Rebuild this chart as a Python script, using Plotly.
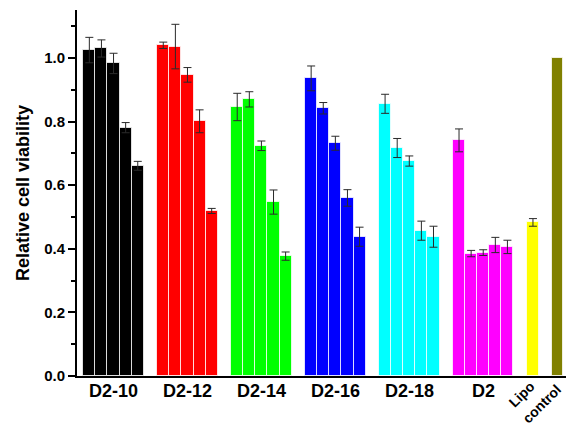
import plotly.graph_objects as go

# Relative cell viability per formulation (five concentrations each)
groups = ["D2-10", "D2-12", "D2-14", "D2-16", "D2-18", "D2"]
colors = ["#000000", "#FF0000", "#00FF00", "#0000FF", "#00FFFF", "#FF00FF"]

d2_10 = [1.025, 1.030, 0.983, 0.781, 0.661]
d2_12 = [1.040, 1.036, 0.947, 0.801, 0.519]
d2_14 = [0.846, 0.870, 0.724, 0.547, 0.377]
d2_16 = [0.936, 0.842, 0.732, 0.560, 0.438]
d2_18 = [0.856, 0.717, 0.676, 0.457, 0.438]
d2 = [0.741, 0.385, 0.388, 0.412, 0.406]

err_10 = [0.040, 0.027, 0.032, 0.016, 0.014]
err_12 = [0.010, 0.070, 0.023, 0.036, 0.008]
err_14 = [0.043, 0.024, 0.015, 0.038, 0.013]
err_16 = [0.039, 0.018, 0.022, 0.026, 0.030]
err_18 = [0.030, 0.030, 0.016, 0.030, 0.033]
err_d2 = [0.036, 0.010, 0.009, 0.024, 0.021]

lipo = 0.483
lipo_err = 0.012
control = 1.0

values = [d2_10, d2_12, d2_14, d2_16, d2_18, d2]
errors = [err_10, err_12, err_14, err_16, err_18, err_d2]

stride = 6.11  # group spacing in bar widths

fig = go.Figure()

err_style = dict(type="data", visible=True, color="#2a2a2a", thickness=1, width=4)
edge = dict(color="rgba(255,255,255,0.75)", width=1)

for g, (vals, errs, col) in enumerate(zip(values, errors, colors)):
    xs = [g * stride + i + 0.5 for i in range(len(vals))]
    fig.add_trace(go.Bar(
        x=xs, y=vals, width=1, marker=dict(color=col, line=edge),
        error_y=dict(array=errs, **err_style), showlegend=False,
    ))

lipo_x = 6 * stride + 0.5
control_x = lipo_x + 2.04
fig.add_trace(go.Bar(
    x=[lipo_x], y=[lipo], width=0.95, marker=dict(color="#FFFF00", line=edge),
    error_y=dict(array=[lipo_err], **err_style), showlegend=False,
))
fig.add_trace(go.Bar(
    x=[control_x], y=[control], width=0.95, marker=dict(color="#808000", line=edge),
    showlegend=False,
))

font = "Liberation Sans, Arial, sans-serif"
group_centers = [g * stride + 2.5 for g in range(len(groups))]

annotations = [
    dict(x=xc, y=-0.008, xref="x", yref="paper", text=f"<b>{name}</b>",
         showarrow=False, yanchor="top", font=dict(family=font, size=18, color="#000"))
    for xc, name in zip(group_centers, groups)
]
# Rotated two-word label under the last two bars
annotations += [
    dict(x=0.910, y=-0.050, xref="paper", yref="paper", text="<b>Lipo</b>", textangle=-45,
         showarrow=False, xanchor="center", yanchor="middle",
         font=dict(family=font, size=14, color="#000")),
    dict(x=0.950, y=-0.076, xref="paper", yref="paper", text="<b>control</b>", textangle=-45,
         showarrow=False, xanchor="center", yanchor="middle",
         font=dict(family=font, size=14, color="#000")),
]

fig.update_layout(
    width=566, height=430,
    margin=dict(l=77, r=0, t=10, b=54),
    paper_bgcolor="white", plot_bgcolor="white",
    barmode="overlay", bargap=0,
    annotations=annotations,
    xaxis=dict(range=[-0.52, 39.89], showline=True, linecolor="#000", linewidth=2,
               showticklabels=False, ticks="", showgrid=False, zeroline=False),
    yaxis=dict(range=[0, 1.151], dtick=0.2, tickformat=".1f", showline=True,
               linecolor="#000", linewidth=2, ticks="outside", ticklen=7, tickwidth=1.5,
               tickcolor="#000", showgrid=False, zeroline=False,
               tickfont=dict(family=font, size=15, color="#000", weight="bold"),
               minor=dict(dtick=0.1, ticks="outside", ticklen=4, tickwidth=1.5, tickcolor="#000"),
               title=dict(text="<b>Relative cell viability</b>", standoff=10,
                          font=dict(family=font, size=18, color="#000"))),
)

fig.write_html("out.html")
